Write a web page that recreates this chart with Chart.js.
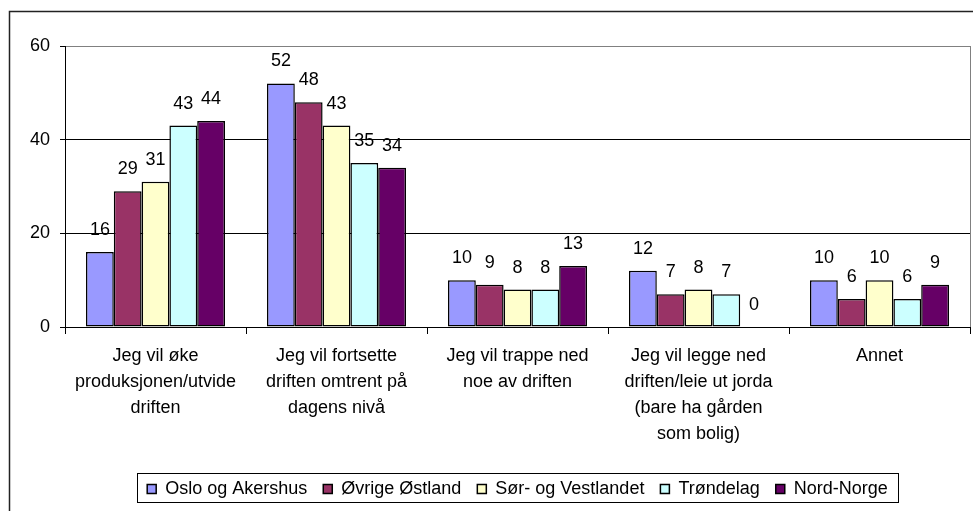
<!DOCTYPE html>
<html>
<head>
<meta charset="utf-8">
<script src="https://cdn.jsdelivr.net/npm/chart.js@4.4.0/dist/chart.umd.min.js"></script>
<style>
  html, body { margin: 0; padding: 0; background: #fff; }
  #wrap { width: 973px; height: 511px; }
</style>
</head>
<body>
<div id="wrap"><canvas id="myChart" width="973" height="511"></canvas></div>
<script>
'use strict';

// answer groups (multi-line tick labels)
const categories = [
  ['Jeg vil øke', 'produksjonen/utvide', 'driften'],
  ['Jeg vil fortsette', 'driften omtrent på', 'dagens nivå'],
  ['Jeg vil trappe ned', 'noe av driften'],
  ['Jeg vil legge ned', 'driften/leie ut jorda', '(bare ha gården', 'som bolig)'],
  ['Annet']
];
const regions = ['Oslo og Akershus', 'Øvrige Østland', 'Sør- og Vestlandet', 'Trøndelag', 'Nord-Norge'];

// percent per region
const osloAkershus = [16, 52, 10, 12, 10];
const ovrigeOstland = [29, 48, 9, 7, 6];
const sorVestlandet = [31, 43, 8, 8, 10];
const trondelag = [43, 35, 8, 7, 6];
const nordNorge = [44, 34, 13, 0, 9];
const yTicks = [0, 20, 40, 60];

const seriesValues = [osloAkershus, ovrigeOstland, sorVestlandet, trondelag, nordNorge];
const barColors = ['#9999FF', '#993366', '#FFFFCC', '#CCFFFF', '#660066'];

const fontFamily = '"Liberation Sans", Arial, sans-serif';

// numbers above each bar
const valueLabels = {
  id: 'valueLabels',
  afterDatasetsDraw(chart) {
    const ctx = chart.ctx;
    ctx.save();
    ctx.font = '18px ' + fontFamily;
    ctx.fillStyle = '#000';
    ctx.textAlign = 'center';
    ctx.textBaseline = 'alphabetic';
    chart.data.datasets.forEach((ds, i) => {
      chart.getDatasetMeta(i).data.forEach((bar, j) => {
        ctx.fillText(String(ds.data[j]), bar.x, bar.y - 17);
      });
    });
    ctx.restore();
  }
};

// outer frame, plot area edge and the box round the legend
const frames = {
  id: 'frames',
  afterDraw(chart) {
    const ctx = chart.ctx;
    const a = chart.chartArea;
    ctx.save();
    ctx.strokeStyle = '#222';
    ctx.lineWidth = 1.5;
    ctx.beginPath();
    ctx.moveTo(9.5, chart.height);
    ctx.lineTo(9.5, 11.5);
    ctx.lineTo(chart.width, 11.5);
    ctx.stroke();

    ctx.strokeStyle = '#808080';
    ctx.lineWidth = 1;
    ctx.beginPath();
    ctx.moveTo(a.right + 0.5, a.top);
    ctx.lineTo(a.right + 0.5, a.bottom);
    ctx.stroke();

    const boxes = chart.legend.legendHitBoxes;
    const first = boxes[0];
    const last = boxes[boxes.length - 1];
    ctx.strokeStyle = '#000';
    ctx.lineWidth = 1;
    const left = Math.round(first.left - 10) + 0.5;
    const right = Math.round(last.left + last.width + 10) + 0.5;
    const top = Math.round(first.top - 7) + 0.5;
    const bottom = Math.round(first.top + first.height + 4) + 0.5;
    ctx.strokeRect(left, top, right - left, bottom - top);
    ctx.restore();
  }
};

const ctx = document.getElementById('myChart').getContext('2d');

const chart = new Chart(ctx, {
  type: 'bar',
  data: {
    labels: categories,
    datasets: regions.map((name, i) => ({
      label: name,
      data: seriesValues[i],
      backgroundColor: barColors[i],
      borderColor: '#000',
      borderWidth: 1.5,
      borderSkipped: false,
      categoryPercentage: 0.768,
      barPercentage: 1
    }))
  },
  options: {
    responsive: false,
    animation: false,
    layout: { padding: { top: 46, right: 3, bottom: 3, left: 0 } },
    plugins: {
      tooltip: { enabled: false },
      legend: {
        position: 'bottom',
        fullSize: false,
        labels: {
          boxWidth: 9,
          boxHeight: 9,
          padding: 16,
          color: '#000',
          font: { family: fontFamily, size: 18 }
        }
      }
    },
    scales: {
      x: {
        grid: {
          offset: true,
          drawOnChartArea: false,
          tickLength: 7,
          color: '#000'
        },
        border: { color: '#000', width: 1 },
        ticks: {
          color: '#000',
          padding: 9,
          maxRotation: 0,
          autoSkip: false,
          font: { family: fontFamily, size: 18, lineHeight: 26 / 18 }
        },
        afterFit: s => { s.height = 137; }
      },
      y: {
        min: 0,
        max: 60,
        afterBuildTicks: s => { s.ticks = yTicks.map(v => ({ value: v })); },
        grid: {
          color: c => (c.tick && c.tick.value === 60 ? '#808080' : '#000'),
          tickColor: '#000',
          tickLength: 5
        },
        border: { color: '#000', width: 1 },
        ticks: {
          color: '#000',
          padding: 10,
          font: { family: fontFamily, size: 18 }
        },
        afterFit: s => { s.width = 65; }
      }
    }
  },
  plugins: [valueLabels, frames]
});
</script>
</body>
</html>
